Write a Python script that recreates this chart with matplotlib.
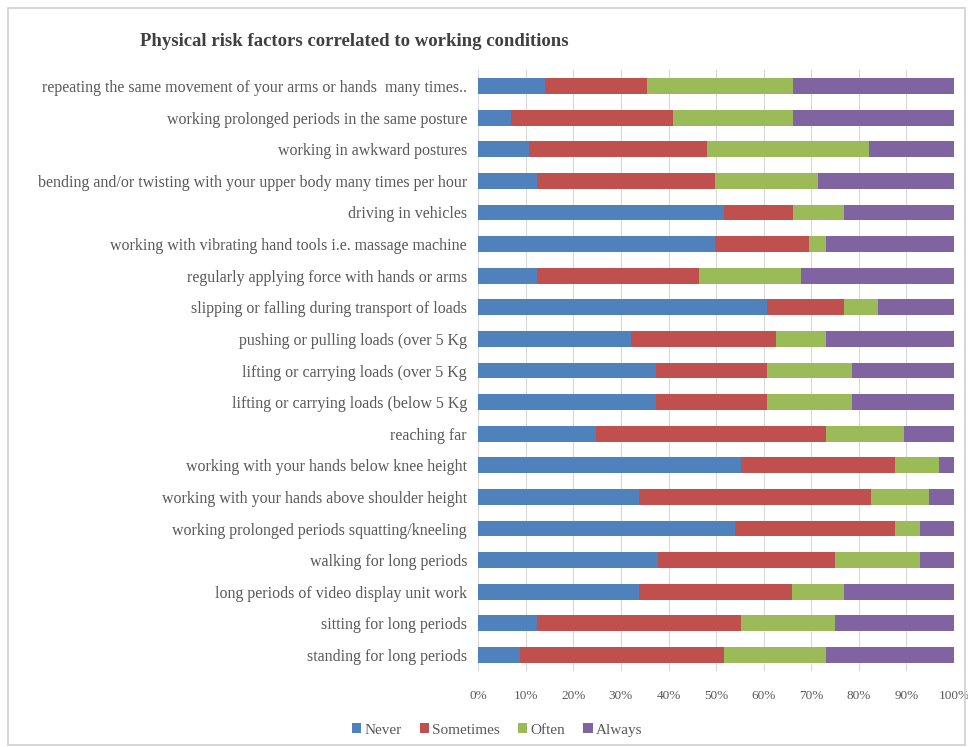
import numpy as np
import matplotlib.pyplot as plt
from matplotlib.patches import Rectangle

# categories, top to bottom as in the chart
labels = [
    "repeating the same movement of your arms or hands  many times..",
    "working prolonged periods in the same posture",
    "working in awkward postures",
    "bending and/or twisting with your upper body many times per hour",
    "driving in vehicles",
    "working with vibrating hand tools i.e. massage machine",
    "regularly applying force with hands or arms",
    "slipping or falling during transport of loads",
    "pushing or pulling loads (over 5 Kg",
    "lifting or carrying loads (over 5 Kg",
    "lifting or carrying loads (below 5 Kg",
    "reaching far",
    "working with your hands below knee height",
    "working with your hands above shoulder height",
    "working prolonged periods squatting/kneeling",
    "walking for long periods",
    "long periods of video display unit work",
    "sitting for long periods",
    "standing for long periods",
]

# percent shares per answer
never = [14.0, 6.9, 10.6, 12.3, 51.6, 49.7, 12.3, 60.8, 32.1, 37.3,
         37.3, 24.8, 55.2, 33.8, 53.9, 37.7, 33.8, 12.3, 8.8]
sometimes = [21.5, 34.0, 37.5, 37.4, 14.5, 19.9, 34.1, 16.0, 30.4, 23.3,
             23.3, 48.3, 32.5, 48.7, 33.8, 37.4, 32.2, 42.9, 42.8]
often = [30.6, 25.2, 34.1, 21.7, 10.8, 3.5, 21.4, 7.2, 10.6, 18.0,
         18.0, 16.5, 9.1, 12.3, 5.2, 17.8, 10.9, 19.9, 21.5]
always = [100 - a - b - c for a, b, c in zip(never, sometimes, often)]

series = ["Never", "Sometimes", "Often", "Always"]
colors = ["#4F81BD", "#C0504D", "#9BBB59", "#8064A2"]

plt.rcParams['font.family'] = ['Liberation Serif', 'DejaVu Serif']

fig = plt.figure(figsize=(9.68, 7.47), dpi=100)
ax = fig.add_axes([0.494, 0.102, 0.4915, 0.804])

y = np.arange(len(labels))
left = np.zeros(len(labels))
for name, vals, col in zip(series, [never, sometimes, often, always], colors):
    vals = np.array(vals)
    ax.barh(y, vals, left=left, height=0.5, color=col, label=name, zorder=3)
    left += vals

ax.set_xlim(0, 100)
ax.set_ylim(len(labels) - 0.5, -0.5)
ax.set_yticks(y)
ax.set_yticklabels(labels, fontsize=11.5, color="#595959")
ax.set_xticks(np.arange(0, 101, 10))
ax.set_xticklabels([f"{v}%" for v in range(0, 101, 10)], fontsize=9.5,
                   color="#595959")
ax.tick_params(length=0, pad=8)
ax.tick_params(axis='x', pad=14)
ax.grid(axis='x', color="#D9D9D9", linewidth=0.8, zorder=0)
for s in ax.spines.values():
    s.set_visible(False)

fig.text(140 / 968, 1 - 41 / 747,
         "Physical risk factors correlated to working conditions",
         fontsize=13.5, fontweight='bold', color="#404040", va='center')

fig.legend(loc='center', bbox_to_anchor=(497 / 968, 1 - 730 / 747), ncol=4,
           frameon=False, fontsize=11, handlelength=0.6, handleheight=0.6,
           handletextpad=0.2, columnspacing=1.2, labelcolor="#595959")

fig.patches.append(Rectangle((8 / 968, 2 / 747), 957 / 968, 737 / 747,
                             transform=fig.transFigure, fill=False,
                             edgecolor="#D0D0D0", linewidth=1.2))

fig.savefig("out.png", dpi=100)
